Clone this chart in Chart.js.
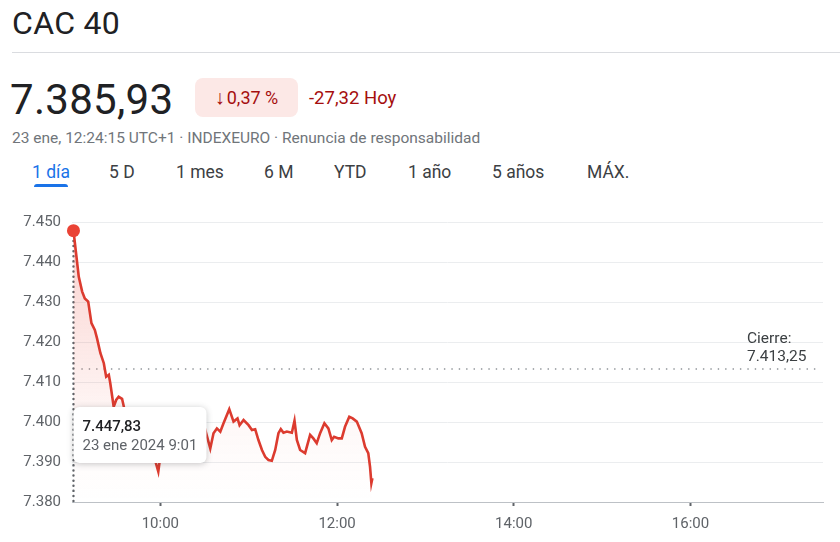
<!DOCTYPE html>
<html lang="es">
<head>
<meta charset="utf-8">
<title>CAC 40</title>
<script src="https://cdn.jsdelivr.net/npm/chart.js@4.4.1/dist/chart.umd.min.js"></script>
<style>
  html, body { margin: 0; padding: 0; background: #fff; }
  body { width: 840px; height: 542px; position: relative; overflow: hidden;
         font-family: Roboto, "Noto Sans", Arial, sans-serif; color: #202124; }
  .abs { position: absolute; white-space: nowrap; line-height: 1; }
  #title { left: 12px; top: 7px; font-size: 32px; letter-spacing: 0.3px; }
  #rule { left: 12px; right: 0; top: 52px; height: 1px; background: #dadce0; }
  #price { left: 10px; top: 79px; font-size: 42px; letter-spacing: 0.3px; }
  #badge { left: 195px; top: 78px; width: 103px; height: 39px; border-radius: 8px;
           background: #fce8e6; color: #a50e0e; font-size: 18px; line-height: 39px; text-align: center; }
  #badge b { font-weight: 400; font-size: 20px; margin-right: 2px; }
  #change { left: 309px; top: 89px; font-size: 18.5px; color: #a50e0e; }
  #meta { left: 12px; top: 131px; font-size: 15.5px; color: #70757a; }
  .tab { top: 164px; font-size: 17.5px; color: #3c4043; }
  .tab.on { color: #1a73e8; }
  #underline { left: 34px; top: 184px; width: 34px; height: 3px; border-radius: 3px 3px 0 0; background: #1a73e8; }
  #wrap { position: absolute; left: 0; top: 195px; width: 840px; height: 347px; }
</style>
</head>
<body>
<div class="abs" id="title">CAC 40</div>
<div class="abs" id="rule"></div>
<div class="abs" id="price">7.385,93</div>
<div class="abs" id="badge"><b>↓</b>0,37 %</div>
<div class="abs" id="change">-27,32 Hoy</div>
<div class="abs" id="meta">23 ene, 12:24:15 UTC+1 · INDEXEURO · Renuncia de responsabilidad</div>
<div class="abs tab on" style="left:32px">1 día</div>
<div class="abs tab" style="left:109px">5 D</div>
<div class="abs tab" style="left:176px">1 mes</div>
<div class="abs tab" style="left:264px">6 M</div>
<div class="abs tab" style="left:334px">YTD</div>
<div class="abs tab" style="left:408px">1 año</div>
<div class="abs tab" style="left:492px">5 años</div>
<div class="abs tab" style="left:587px">MÁX.</div>
<div class="abs" id="underline"></div>
<div id="wrap"><canvas id="myChart"></canvas></div>

<script>
// minutes after 9:00 and the index level at that minute
const minutes = [1, 4.6, 6.9, 8.7, 11, 13.2, 15.5, 17, 19.3, 21.6, 23.2, 25, 26, 28.3, 30, 31.7, 34,
  36, 38, 41, 44, 47, 50, 53, 56, 58.6, 60, 63, 67, 71, 75, 79, 83, 87,
  90.5, 93.9, 96.1, 98.4, 100.7, 102.9, 106.8, 109.7, 112.4, 113.8, 116.5, 119.9, 122.2, 124.4,
  126.6, 129, 131.2, 133.4, 135.7, 138, 140.2, 141.8, 143.6, 145.9, 149.3, 151.1, 152.7, 154.9,
  158.3, 161.7, 163.9, 166.2, 168.5, 171.4, 174.1, 176.4, 178, 180.9, 183.2, 185.4, 188.3,
  190.6, 193.4, 196.7, 199, 201.2, 202.4, 203.3, 204];
const prices = [7447.83, 7436.3, 7432.6, 7430.9, 7430.1, 7424.7, 7423, 7420.9, 7417.2, 7414.7, 7411.3, 7411.8, 7409.7, 7403.8, 7405.5, 7406.3, 7405.8,
  7402.5, 7400, 7397.5, 7396, 7394.5, 7393, 7392, 7391, 7387.6, 7391.5, 7393.5, 7394.5, 7393, 7395, 7394, 7396, 7397,
  7398, 7393.4, 7397.2, 7398.4, 7397.6, 7399.7, 7403.2, 7400.1, 7400.9, 7399.2, 7400.5, 7399.2, 7398, 7398.2,
  7395.5, 7393, 7391.3, 7390.5, 7390.3, 7393, 7397.2, 7398.2, 7397.3, 7397.6, 7397.3, 7400.3, 7395.5, 7393,
  7392.2, 7396.8, 7395.9, 7394.7, 7397.2, 7399.7, 7398.4, 7395.5, 7396.3, 7395.9, 7395.9, 7398.8, 7401.3,
  7400.9, 7400.1, 7397.2, 7393.8, 7392.2, 7388.8, 7384.7, 7385.93];

const prevClose = 7413.25;
const sessionEnd = 510; // 17:30
const xTickMinutes = [60, 180, 300, 420];
const xTickLabels = ["10:00", "12:00", "14:00", "16:00"];
const yMin = 7380, yMax = 7450, yStep = 10;
const tipValue = "7.447,83";
const tipDate = "23 ene 2024 9:01";

const fmt = v => Math.floor(v / 1000) + "." + String(Math.round(v % 1000)).padStart(3, "0");

// closing line, crosshair, label and tooltip
const extras = {
  id: "extras",
  beforeDatasetsDraw(chart) {
    const { ctx, chartArea, scales } = chart;
    const yc = scales.y.getPixelForValue(prevClose);
    ctx.save();
    ctx.strokeStyle = "#80868b";
    ctx.lineWidth = 1.6;
    ctx.lineCap = "round";
    ctx.setLineDash([0.1, 7.3]);
    ctx.beginPath();
    ctx.moveTo(scales.x.getPixelForValue(0) + 10, yc);
    ctx.lineTo(chartArea.right - 4, yc);
    ctx.stroke();
    ctx.setLineDash([]);
    ctx.fillStyle = "#3c4043";
    ctx.font = "15.5px Roboto";
    ctx.textAlign = "left";
    ctx.textBaseline = "alphabetic";
    ctx.fillText("Cierre:", chartArea.right - 76, yc - 26);
    ctx.fillText(fmt(prevClose) + "," + String(Math.round((prevClose % 1) * 100)).padStart(2, "0"), chartArea.right - 76, yc - 8);
    // crosshair at the first point
    const p = chart.getDatasetMeta(0).data[0];
    ctx.strokeStyle = "#5f6368";
    ctx.lineWidth = 2.4;
    ctx.setLineDash([0.1, 5]);
    ctx.beginPath();
    ctx.moveTo(p.x, p.y);
    ctx.lineTo(p.x, chartArea.bottom);
    ctx.stroke();
    ctx.restore();
  },
  afterDraw(chart) {
    const { ctx, chartArea } = chart;
    const p = chart.getDatasetMeta(0).data[0];
    const w = 133, h = 56, x = p.x, y = chartArea.bottom - 95;
    ctx.save();
    ctx.shadowColor = "rgba(60,64,67,0.3)";
    ctx.shadowBlur = 6;
    ctx.shadowOffsetY = 1;
    ctx.fillStyle = "#fff";
    ctx.beginPath();
    ctx.roundRect(x, y, w, h, 6);
    ctx.fill();
    ctx.shadowColor = "transparent";
    ctx.fillStyle = "#202124";
    ctx.font = "500 15px Roboto";
    ctx.fillText(tipValue, x + 9, y + 24);
    ctx.fillStyle = "#5f6368";
    ctx.font = "15px Roboto";
    ctx.fillText(tipDate, x + 9, y + 43);
    ctx.restore();
  }
};

const config = {
  type: "line",
  data: {
    datasets: [{
      data: minutes.map((m, i) => ({ x: m, y: prices[i] })),
      borderColor: "#dc3b2f",
      borderWidth: 2.6,
      tension: 0,
      fill: "start",
      backgroundColor: (c) => {
        const a = c.chart.chartArea;
        if (!a) return "rgba(234,67,53,0.1)";
        const g = c.chart.ctx.createLinearGradient(0, a.top, 0, a.bottom);
        g.addColorStop(0, "rgba(234,67,53,0.25)");
        g.addColorStop(0.75, "rgba(234,67,53,0.03)");
        g.addColorStop(1, "rgba(234,67,53,0.0)");
        return g;
      },
      pointRadius: minutes.map((m, i) => (i === 0 ? 6.5 : 0)),
      pointBackgroundColor: "#ea4335",
      pointBorderWidth: 0,
      clip: false
    }]
  },
  options: {
    responsive: true,
    maintainAspectRatio: false,
    animation: false,
    events: [],
    layout: { padding: { top: 27, right: 17, left: 0, bottom: 0 } },
    plugins: { legend: { display: false }, tooltip: { enabled: false } },
    scales: {
      x: {
        type: "linear",
        min: 0,
        max: sessionEnd,
        afterBuildTicks: (axis) => { axis.ticks = xTickMinutes.map(v => ({ value: v })); },
        afterFit: (s) => { s.height = 40; },
        ticks: {
          callback: (v) => xTickLabels[xTickMinutes.indexOf(v)],
          color: "#5f6368",
          font: { family: "Roboto", size: 15 },
          padding: 9,
          maxRotation: 0
        },
        grid: { drawOnChartArea: false, drawTicks: true, tickLength: 4, tickColor: "#5f6368", tickWidth: 2 },
        border: { color: "#bdc1c6", width: 1 }
      },
      y: {
        min: yMin,
        max: yMax,
        afterFit: (s) => { s.width = 72; },
        ticks: {
          stepSize: yStep,
          callback: (v) => fmt(v),
          color: "#5f6368",
          font: { family: "Roboto", size: 15 },
          padding: 11
        },
        grid: { color: "#ebedef", drawTicks: false },
        border: { display: false }
      }
    }
  },
  plugins: [extras]
};

const chart = new Chart(document.getElementById("myChart"), config);
</script>
</body>
</html>
